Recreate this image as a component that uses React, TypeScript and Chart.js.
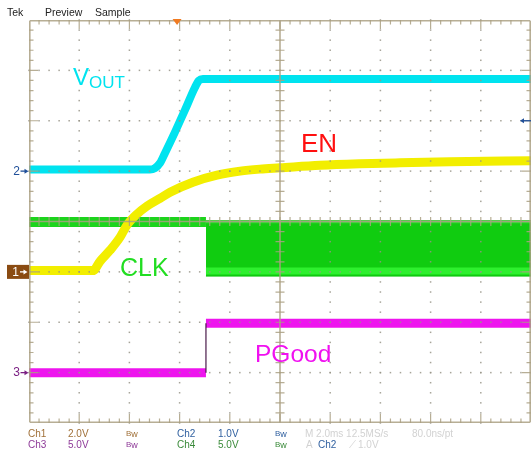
import React, { useEffect, useRef } from "react";
import { Chart, registerables } from "chart.js";

Chart.register(...registerables);

// ---- scope settings ----
const channelNames = ["Ch1", "Ch2", "Ch3", "Ch4"];
const voltsPerDiv = [2.0, 1.0, 5.0, 5.0];
const groundDiv = [-1, 1, -3, -1];
const timePerDivMs = 2.0;
const timeDivs = 10;
const voltDivs = 8;
const triggerTimeMs = -4.1;
const triggerLevelV = 1.0; // on Ch2

// ---- Ch2: VOUT ----
const voutTimesMs = [-10, -5.18, -4.98, -4.78, -4.58, -4.18, -3.78, -3.39, -3.23, -3.07, 10];
const voutVolts = [0.03, 0.03, 0.06, 0.16, 0.36, 0.78, 1.22, 1.66, 1.8, 1.83, 1.83];

// ---- Ch1: EN ----
const enTimesMs = [-10, -7.45, -7.17, -6.77, -6.37, -6.1, -5.7, -5.3, -4.78, -4.38, -3.47, -2.51, -1.59, -0.8, 0, 1.59, 3.19, 4.78, 6.77, 10];
const enVolts = [0.05, 0.05, 0.42, 0.86, 1.38, 1.85, 2.29, 2.61, 2.92, 3.16, 3.56, 3.84, 4.0, 4.08, 4.13, 4.23, 4.29, 4.33, 4.37, 4.41];

// ---- Ch4: CLK ----
const clkStartMs = -2.95;
const clkIdleV = 4.95;
const clkTopV = 5.12;
const clkBottomV = -0.42;
const clkLowV = 0.08;

// ---- Ch3: PGood ----
const pgoodEdgeMs = -2.95;
const pgoodLowV = 0.0;
const pgoodHighV = 4.9;

const FONT = '"Liberation Sans", Arial, Helvetica, sans-serif';

const toDiv = (v: number, ch: number) => v / voltsPerDiv[ch] + groundDiv[ch];
const pts = (ts: number[], vs: number[], ch: number) => ts.map((t, i) => ({ x: t, y: toDiv(vs[i], ch) }));

const graticule = {
  id: "graticule",
  afterDatasetsDraw(chart: any) {
    const { ctx, chartArea: a } = chart;
    const L = a.left, R = a.right, T = a.top, B = a.bottom;
    const mx = (R - L) / (timeDivs * 5);
    const my = (B - T) / (voltDivs * 5);
    const cx = (L + R) / 2, cy = (T + B) / 2;
    ctx.save();
    // dotted grid
    ctx.fillStyle = "rgba(150,148,135,0.85)";
    for (let i = 1; i < timeDivs; i++) {
      if (i === timeDivs / 2) continue;
      const px = L + i * 5 * mx;
      for (let k = 0; k <= voltDivs * 5; k++) ctx.fillRect(px - 0.75, T + k * my - 0.75, 1.5, 1.5);
    }
    for (let j = 1; j < voltDivs; j++) {
      if (j === voltDivs / 2) continue;
      const py = T + j * 5 * my;
      for (let k = 0; k <= timeDivs * 5; k++) ctx.fillRect(L + k * mx - 0.75, py - 0.75, 1.5, 1.5);
    }
    ctx.strokeStyle = "rgba(170,160,130,0.85)";
    ctx.lineWidth = 1.6;
    ctx.beginPath();
    // border
    ctx.moveTo(L + 0.8, T + 0.8); ctx.lineTo(R - 0.8, T + 0.8);
    ctx.moveTo(L + 0.8, B - 0.8); ctx.lineTo(R - 0.8, B - 0.8);
    ctx.moveTo(L + 0.8, T + 0.8); ctx.lineTo(L + 0.8, B - 0.8);
    ctx.moveTo(R - 0.8, T + 0.8); ctx.lineTo(R - 0.8, B - 0.8);
    // center axes
    ctx.moveTo(cx, T); ctx.lineTo(cx, B);
    ctx.moveTo(L, cy); ctx.lineTo(R, cy);
    ctx.stroke();
    ctx.lineWidth = 1.2;
    ctx.beginPath();
    for (let k = 1; k < timeDivs * 5; k++) {
      const px = L + k * mx;
      const len = k % 5 === 0 ? 9 : 4.5;
      ctx.moveTo(px, T); ctx.lineTo(px, T + len);
      ctx.moveTo(px, B); ctx.lineTo(px, B - len);
      ctx.moveTo(px, cy - 4.5); ctx.lineTo(px, cy + 4.5);
    }
    for (let k = 1; k < voltDivs * 5; k++) {
      const py = T + k * my;
      const len = k % 5 === 0 ? 9 : 4.5;
      ctx.moveTo(L, py); ctx.lineTo(L + len, py);
      ctx.moveTo(R, py); ctx.lineTo(R - len, py);
      ctx.moveTo(cx - 4.5, py); ctx.lineTo(cx + 4.5, py);
    }
    ctx.stroke();
    ctx.restore();
  },
};

function arrowRight(ctx: any, x0: number, x1: number, y: number, color: string) {
  ctx.strokeStyle = color;
  ctx.fillStyle = color;
  ctx.lineWidth = 1.3;
  ctx.beginPath();
  ctx.moveTo(x0, y); ctx.lineTo(x1 - 3, y);
  ctx.stroke();
  ctx.beginPath();
  ctx.moveTo(x1, y); ctx.lineTo(x1 - 4, y - 2.5); ctx.lineTo(x1 - 4, y + 2.5); ctx.closePath();
  ctx.fill();
}

const markers = {
  id: "markers",
  afterDraw(chart: any) {
    const { ctx, chartArea: a, scales } = chart;
    const ys = scales.y, xs = scales.x;
    ctx.save();
    ctx.font = `12px ${FONT}`;
    ctx.textBaseline = "middle";
    ctx.textAlign = "center";
    // Ch2 ground
    let yy = ys.getPixelForValue(groundDiv[1]);
    ctx.fillStyle = "#1f4f99";
    ctx.fillText("2", 16.5, yy + 0.5);
    arrowRight(ctx, 20.5, a.left - 0.5, yy, "#1f4f99");
    // Ch1 ground
    yy = ys.getPixelForValue(groundDiv[0]);
    ctx.fillStyle = "#8a4b12";
    ctx.fillRect(7, yy - 7, a.left - 7, 14);
    ctx.fillStyle = "#ffffff";
    ctx.fillText("1", 15.5, yy + 0.5);
    arrowRight(ctx, 20, a.left - 1.5, yy, "#ffffff");
    // Ch3 ground
    yy = ys.getPixelForValue(groundDiv[2]);
    ctx.fillStyle = "#7b2083";
    ctx.fillText("3", 16.5, yy + 0.5);
    arrowRight(ctx, 20.5, a.left - 0.5, yy, "#7b2083");
    // trigger level (Ch2) on the right
    yy = ys.getPixelForValue(toDiv(triggerLevelV, 1));
    ctx.strokeStyle = "#1f4f99";
    ctx.fillStyle = "#1f4f99";
    ctx.lineWidth = 1.3;
    ctx.beginPath();
    ctx.moveTo(a.right, yy); ctx.lineTo(a.right - 8, yy);
    ctx.stroke();
    ctx.beginPath();
    ctx.moveTo(a.right - 11, yy); ctx.lineTo(a.right - 7, yy - 2.5); ctx.lineTo(a.right - 7, yy + 2.5); ctx.closePath();
    ctx.fill();
    // trigger position
    const tx = xs.getPixelForValue(triggerTimeMs);
    ctx.fillStyle = "#f07a20";
    ctx.beginPath();
    ctx.moveTo(tx - 4.5, a.top - 1); ctx.lineTo(tx + 4.5, a.top - 1); ctx.lineTo(tx, a.top + 5); ctx.closePath();
    ctx.fill();
    ctx.restore();
  },
};

function Txt(props: { x: number; b: number; size: number; color: string; children: React.ReactNode }) {
  const { x, b, size, color, children } = props;
  return (
    <div
      style={{
        position: "absolute",
        left: x,
        top: b - 0.8465 * size,
        fontSize: size,
        lineHeight: `${size}px`,
        color,
        whiteSpace: "nowrap",
        fontFamily: FONT,
      }}
    >
      {children}
    </div>
  );
}

function Bw({ x, b, color }: { x: number; b: number; color: string }) {
  return (
    <Txt x={x} b={b} size={10} color={color}>
      <span style={{ fontSize: 8, position: "relative", top: -1.5 }}>B</span>
      <span style={{ fontSize: 9 }}>w</span>
    </Txt>
  );
}

export default function App() {
  const ref = useRef<HTMLCanvasElement | null>(null);

  useEffect(() => {
    if (!ref.current) return;
    const ch1 = 0, ch2 = 1, ch3 = 2, ch4 = 3;
    const tMin = -(timeDivs / 2) * timePerDivMs;
    const tMax = (timeDivs / 2) * timePerDivMs;
    const base = { pointRadius: 0, borderCapStyle: "butt", borderJoinStyle: "round", fill: false, showLine: true, tension: 0 };
    const chart = new Chart(ref.current, {
      type: "line",
      data: {
        datasets: [
          {
            ...base,
            label: "VOUT",
            data: pts(voutTimesMs, voutVolts, ch2),
            borderColor: "#00e3ef",
            borderWidth: 8,
            cubicInterpolationMode: "monotone",
            order: 1,
          },
          {
            ...base,
            label: "EN",
            data: pts(enTimesMs, enVolts, ch1),
            borderColor: "#f2ee00",
            borderWidth: 9,
            cubicInterpolationMode: "monotone",
            order: 2,
          },
          {
            ...base,
            label: "PGood edge",
            data: [
              { x: pgoodEdgeMs, y: toDiv(pgoodLowV, ch3) },
              { x: pgoodEdgeMs, y: toDiv(pgoodHighV, ch3) },
            ],
            borderColor: "#4a1a4a",
            borderWidth: 1.2,
            order: 3,
          },
          {
            ...base,
            label: "PGood high",
            data: [
              { x: pgoodEdgeMs, y: toDiv(pgoodHighV, ch3) },
              { x: tMax, y: toDiv(pgoodHighV, ch3) },
            ],
            borderColor: "#ee14ee",
            borderWidth: 9,
            order: 4,
          },
          {
            ...base,
            label: "PGood low",
            data: [
              { x: tMin, y: toDiv(pgoodLowV, ch3) },
              { x: pgoodEdgeMs, y: toDiv(pgoodLowV, ch3) },
            ],
            borderColor: "#ee14ee",
            borderWidth: 9,
            order: 4,
          },
          {
            ...base,
            label: "CLK idle",
            data: [
              { x: tMin, y: toDiv(clkIdleV, ch4) },
              { x: clkStartMs, y: toDiv(clkIdleV, ch4) },
            ],
            borderColor: "#1cd41c",
            borderWidth: 10,
            order: 8,
          },
          {
            ...base,
            label: "CLK low",
            data: [
              { x: clkStartMs, y: toDiv(clkLowV, ch4) },
              { x: tMax, y: toDiv(clkLowV, ch4) },
            ],
            borderColor: "#2ef02e",
            borderWidth: 7,
            order: 8,
          },
          {
            ...base,
            label: "CLK top",
            data: [
              { x: clkStartMs, y: toDiv(clkTopV - 0.15, ch4) },
              { x: tMax, y: toDiv(clkTopV - 0.15, ch4) },
            ],
            borderColor: "#3ad83a",
            borderWidth: 3,
            order: 8,
          },
          {
            ...base,
            label: "CLK",
            data: [
              { x: clkStartMs, y: toDiv(clkBottomV, ch4) },
              { x: tMax, y: toDiv(clkBottomV, ch4) },
            ],
            borderColor: "#10c810",
            borderWidth: 1,
            backgroundColor: "#10cc10",
            fill: { value: toDiv(clkTopV, ch4) },
            order: 10,
          },
        ],
      } as any,
      options: {
        responsive: false,
        maintainAspectRatio: false,
        animation: false,
        devicePixelRatio: 1,
        layout: { padding: { left: 29, right: 0, top: 20, bottom: 32 } },
        plugins: { legend: { display: false }, tooltip: { enabled: false }, title: { display: false } },
        scales: {
          x: { type: "linear", min: tMin, max: tMax, display: false },
          y: { type: "linear", min: -voltDivs / 2, max: voltDivs / 2, display: false },
        },
        elements: { point: { radius: 0 } },
      } as any,
      plugins: [graticule, markers],
    });
    return () => chart.destroy();
  }, []);

  const c1 = "#a07038", c2 = "#2f5f9f", c3 = "#8e3a98", c4 = "#3a8a3a", gray = "#d2d2d2";
  const r1 = 437.5, r2 = 448.5;

  return (
    <div style={{ position: "absolute", left: 0, top: 0, width: 531, height: 455, background: "#ffffff", overflow: "hidden" }}>
      <canvas ref={ref} width={531} height={455} style={{ position: "absolute", left: 0, top: 0, width: 531, height: 455 }} />
      <Txt x={7} b={16} size={10.5} color="#222">Tek</Txt>
      <Txt x={45} b={16} size={10.5} color="#222">Preview</Txt>
      <Txt x={95} b={16} size={10.5} color="#222">Sample</Txt>

      <Txt x={73} b={85} size={24} color="#00e3ef">V</Txt>
      <Txt x={89} b={88} size={17} color="#00e3ef">OUT</Txt>
      <Txt x={301} b={152} size={26} color="#ff1010">EN</Txt>
      <Txt x={120} b={276.5} size={25} color="#22dd22">CLK</Txt>
      <Txt x={255} b={363} size={24.5} color="#f010f0">PGood</Txt>

      <Txt x={28} b={r1} size={10} color={c1}>{channelNames[0]}</Txt>
      <Txt x={68} b={r1} size={10} color={c1}>{voltsPerDiv[0].toFixed(1)}V</Txt>
      <Bw x={126} b={r1} color={c1} />
      <Txt x={177} b={r1} size={10} color={c2}>{channelNames[1]}</Txt>
      <Txt x={218} b={r1} size={10} color={c2}>{voltsPerDiv[1].toFixed(1)}V</Txt>
      <Bw x={275} b={r1} color={c2} />
      <Txt x={305} b={r1} size={10} color={gray}>M {timePerDivMs.toFixed(1)}ms 12.5MS/s</Txt>
      <Txt x={412} b={r1} size={10} color={gray}>80.0ns/pt</Txt>

      <Txt x={28} b={r2} size={10} color={c3}>{channelNames[2]}</Txt>
      <Txt x={68} b={r2} size={10} color={c3}>{voltsPerDiv[2].toFixed(1)}V</Txt>
      <Bw x={126} b={r2} color={c3} />
      <Txt x={177} b={r2} size={10} color={c4}>{channelNames[3]}</Txt>
      <Txt x={218} b={r2} size={10} color={c4}>{voltsPerDiv[3].toFixed(1)}V</Txt>
      <Bw x={275} b={r2} color={c4} />
      <Txt x={306} b={r2} size={10} color={gray}>A</Txt>
      <Txt x={318} b={r2} size={10} color={c2}>Ch2</Txt>
      <Txt x={349} b={r2} size={10} color={gray}>⟋</Txt>
      <Txt x={358} b={r2} size={10} color={gray}>{triggerLevelV.toFixed(1)}V</Txt>
    </div>
  );
}
